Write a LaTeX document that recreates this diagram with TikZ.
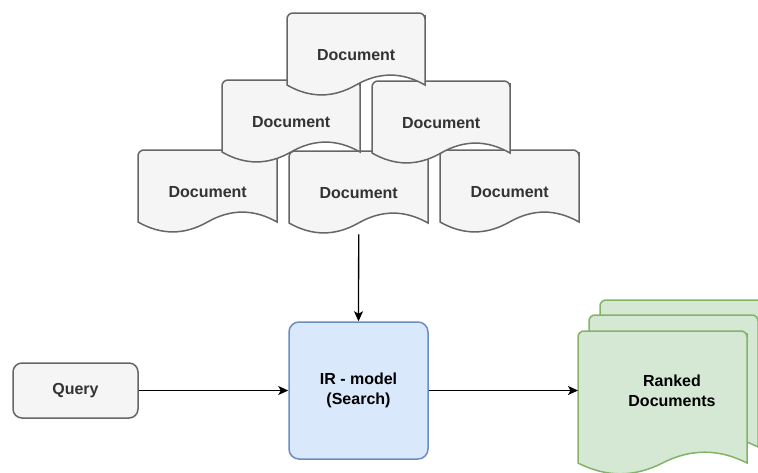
\documentclass[tikz,border=0pt]{standalone}
\usepackage{fontspec}
\setmainfont{Liberation Sans}
\usetikzlibrary{arrows.meta}

\definecolor{docfill}{HTML}{F5F5F5}
\definecolor{docline}{HTML}{666666}
\definecolor{doctext}{HTML}{333333}
\definecolor{irfill}{HTML}{DAE8FC}
\definecolor{irline}{HTML}{6C8EBF}
\definecolor{rkfill}{HTML}{D5E8D4}
\definecolor{rkline}{HTML}{82B366}

\tikzset{
  docgrey/.style={fill=docfill, draw=docline, line width=1.5pt},
  docgreen/.style={fill=rkfill, draw=rkline, line width=1.5pt},
  labeltext/.style={font=\bfseries\fontsize{16}{20}\selectfont, align=center, inner sep=0pt},
  flow/.style={line width=1.3pt, -{Stealth[length=10pt, width=9pt, inset=2.5pt]}},
}

% #1 name, #2 left, #3 top, #4 width, #5 height, #6 wave depth, #7 style, #8 text
\newcommand\docshape[8]{%
  \begin{scope}[shift={(#2,#3)}]
    \path[#7] (0,{#5-0.5*#6}) [rounded corners=6pt] -- (0,0) -- (#4,0) -- (#4,8)
      [sharp corners] -- (#4,{#5-0.5*#6})
      .. controls ({5*#4/6},{#5-1.1*#6}) and ({2*#4/3},{#5-1.1*#6}) .. ({#4/2},{#5-0.5*#6})
      .. controls ({#4/3},{#5+0.1*#6}) and ({#4/6},{#5+0.1*#6}) .. (0,{#5-0.5*#6}) -- cycle;
    \node[labeltext, text=doctext, minimum width=#4pt, minimum height=#5pt, anchor=north west]
      (#1) at (0,0) {#8};
  \end{scope}}

\begin{document}
\begin{tikzpicture}[x=1pt, y=-1pt]
  \useasboundingbox (0,0) rectangle (758,472);

  % stack of source documents, back to front
  \docshape{d4}{138}{150}{139}{83}{22}{docgrey}{Document}
  \docshape{d5}{289}{151}{139}{83}{22}{docgrey}{Document}
  \docshape{d6}{440}{150}{139}{83}{22}{docgrey}{Document}
  \docshape{d2}{222}{80}{138}{83}{22}{docgrey}{Document}
  \docshape{d3}{372}{81}{138}{83}{22}{docgrey}{Document}
  \docshape{d1}{287}{13}{138}{83}{22}{docgrey}{Document}

  % query and model
  \node[labeltext, text=doctext, fill=docfill, draw=docline, line width=1.5pt,
        rounded corners=9pt, minimum width=125pt, minimum height=55pt]
        (query) at (75.5,390.5) {Query};
  \node[labeltext, text=black, fill=irfill, draw=irline, line width=1.5pt,
        rounded corners=10pt, minimum width=139pt, minimum height=137pt]
        (ir) at (358.5,390.5) {IR - model\\(Search)};

  % ranked output documents
  \docshape{rk3}{600}{300}{169}{144}{24}{docgreen}{}
  \docshape{rk2}{589}{315}{169}{144}{24}{docgreen}{}
  \docshape{rk1}{578}{331}{169}{144}{24}{docgreen}{}
  \node[labeltext, text=black] (rktext) at (672,391) {Ranked\\Documents};

  % connectors
  \draw[flow] (d5.south) -- (ir.north);
  \draw[flow] (query.east) -- (ir.west);
  \draw[flow] (ir.east) -- (ir.east -| rk1.west);
\end{tikzpicture}
\end{document}
